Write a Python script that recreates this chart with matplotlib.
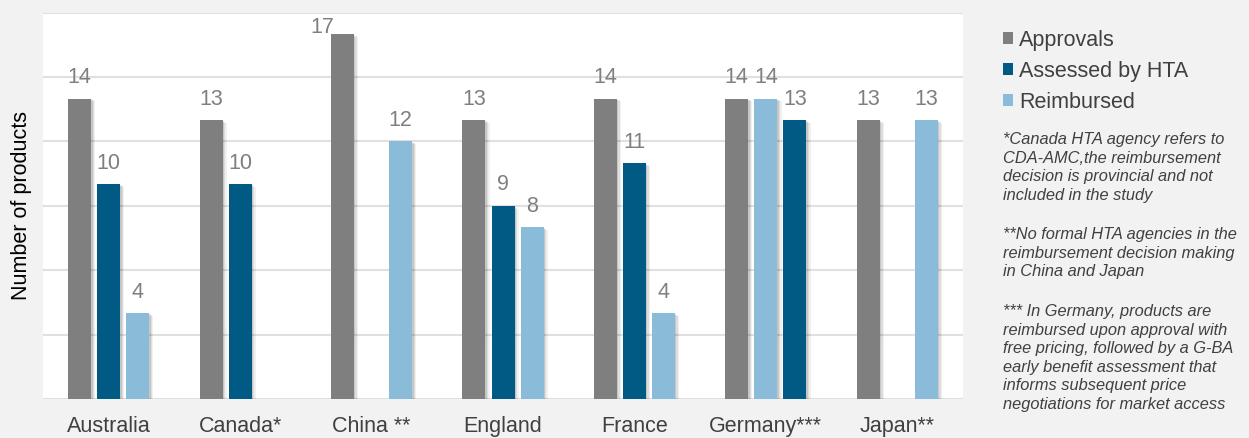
import matplotlib
matplotlib.use("Agg")
import matplotlib.pyplot as plt
import matplotlib.patheffects as pe
from matplotlib.patches import Patch
import numpy as np

plt.rcParams['font.family'] = ['Liberation Sans', 'DejaVu Sans']

countries = ["Australia", "Canada*", "China **", "England", "France", "Germany***", "Japan**"]
approvals = [14, 13, 17, 13, 14, 14, 13]
assessed = [10, 10, None, 9, 11, 13, None]
reimbursed = [4, None, 12, 8, 4, 14, 13]

series_names = ["Approvals", "Assessed by HTA", "Reimbursed"]
colors = ["#7f7f7f", "#005a84", "#8abbd9"]

notes = [
    "*Canada HTA agency refers to\nCDA-AMC,the reimbursement\ndecision is provincial and not\nincluded in the study",
    "**No formal HTA agencies in the\nreimbursement decision making\nin China and Japan",
    "*** In Germany, products are\nreimbursed upon approval with\nfree pricing, followed by a G-BA\nearly benefit assessment that\ninforms subsequent price\nnegotiations for market access",
]

BG = "#f2f2f2"
TXT = "#404040"
LBL = "#7f7f7f"
YMAX = 18

fig = plt.figure(figsize=(12.49, 4.38), dpi=100, facecolor=BG)
ax = fig.add_axes([43 / 1249, 39 / 438, 920 / 1249, 386.3 / 438])
ax.set_facecolor("white")

shadow = [
    pe.SimplePatchShadow(offset=(1.0, -0.8), shadow_rgbFace="k", alpha=0.10),
    pe.SimplePatchShadow(offset=(2.0, -1.4), shadow_rgbFace="k", alpha=0.08),
    pe.SimplePatchShadow(offset=(3.0, -2.0), shadow_rgbFace="k", alpha=0.06),
    pe.Normal(),
]

x = np.arange(len(countries))
width = 0.175
step = 0.221
all_series = [approvals, assessed, reimbursed]

for i, country in enumerate(countries):
    # Germany lists reimbursement before the HTA assessment
    order = [0, 2, 1] if country.startswith("Germany") else [0, 1, 2]
    for slot, s in enumerate(order):
        val = all_series[s][i]
        if val is None:
            continue
        xpos = x[i] + (slot - 1) * step
        bar = ax.bar(xpos, val, width, color=colors[s], zorder=3)
        for p in bar.patches:
            p.set_path_effects(shadow)
        if val > YMAX - 2:
            # no room above the bar: tuck the label in at its top-left corner
            ax.annotate(str(val), (xpos - width / 2, val), xytext=(2.5, -2.5),
                        textcoords="offset points", ha="right", va="bottom",
                        fontsize=15.5, color=LBL, zorder=4)
        else:
            ax.annotate(str(val), (xpos, val), xytext=(0, 7.5), textcoords="offset points",
                        ha="center", va="bottom", fontsize=15.5, color=LBL, zorder=4)

ax.set_xlim(-0.5, len(countries) - 0.5)
ax.set_ylim(0, YMAX)
ax.set_yticks(np.arange(0, YMAX + 1, 3))
ax.set_yticklabels([])
ax.tick_params(axis="y", length=0)
ax.tick_params(axis="x", length=0, pad=12.5, labelsize=15.5, labelcolor=TXT)
ax.set_xticks(x)
ax.set_xticklabels(countries)
ax.grid(axis="y", color="#e0e0e0", linewidth=1.5, zorder=0)
for sp in ax.spines.values():
    sp.set_visible(False)
ax.set_ylabel("Number of products", fontsize=15.5, color="black")
ax.yaxis.set_label_coords(-0.012, 0.5)

handles = [Patch(facecolor=c, edgecolor="none") for c in colors]
fig.legend(handles, series_names, loc="upper left", bbox_to_anchor=(994 / 1249, 1 - 21 / 438),
           frameon=False, fontsize=15.5, labelcolor=TXT, handlelength=0.48, handleheight=0.48,
           handletextpad=0.3, labelspacing=0.47, borderaxespad=0)

note_y = [132, 227, 304]
for txt, y in zip(notes, note_y):
    fig.text(1003 / 1249, 1 - y / 438, txt, ha="left", va="top", fontsize=11.75,
             style="italic", color=TXT, linespacing=1.3)

fig.savefig("out.png", dpi=100, facecolor=BG)
